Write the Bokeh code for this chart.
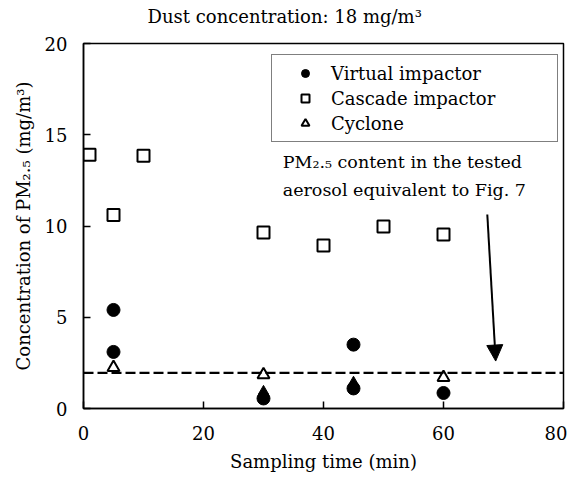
from bokeh.plotting import figure
from bokeh.models import (Range1d, Span, Arrow, NormalHead, Legend, LegendItem,
                          FixedTicker, Label)
from bokeh.core.properties import value
from bokeh.embed import file_html
from bokeh.resources import INLINE

# ---- data ----
virtual_x = [5, 5, 30, 45, 45, 60]
virtual_y = [5.4, 3.1, 0.55, 3.5, 1.1, 0.85]

cascade_x = [1, 5, 10, 30, 40, 50, 60]
cascade_y = [13.9, 10.6, 13.85, 9.64, 8.93, 9.97, 9.53]

cyclone_x = [5, 30, 60]
cyclone_y = [2.25, 1.85, 1.7]
# cyclone points overlapping the virtual-impactor dots (printed dark)
cyclone_dark_x = [30, 45]
cyclone_dark_y = [0.95, 1.45]

pm25_level = 1.95

arrow_x = [67.3, 68.7]
arrow_y = [10.63, 2.6]

note_lines = ["PM\u2082.\u2085 content in the tested", "aerosol equivalent to Fig. 7"]
note_x = [33.2, 33.2]
note_y = [13.5, 12.0]

title_text = "Dust concentration: 18 mg/m\u00b3"

x_ticks = [0, 20, 40, 60, 80]
y_ticks = [0, 5, 10, 15, 20]

FONT = "DejaVu Serif"

p = figure(width=567, height=474, output_backend="svg", toolbar_location=None,
           title=None,
           x_range=Range1d(0, 80), y_range=Range1d(0, 20),
           min_border_left=83, min_border_right=4, min_border_top=43,
           min_border_bottom=63)

p.outline_line_color = "black"
p.outline_line_width = 1.5
p.grid.visible = False
p.background_fill_color = "white"
p.border_fill_color = "white"

for ax in (p.xaxis[0], p.yaxis[0]):
    ax.axis_line_color = "black"
    ax.axis_line_width = 1.5
    ax.major_tick_in = 7
    ax.major_tick_out = 0
    ax.major_tick_line_width = 1.5
    ax.minor_tick_line_color = None
    ax.major_label_text_font = FONT
    ax.major_label_text_font_size = "18px"
    ax.major_label_text_color = "black"
    ax.axis_label_text_font = FONT
    ax.axis_label_text_font_size = "18px"
    ax.axis_label_text_font_style = "normal"
    ax.axis_label_text_color = "black"

p.xaxis.ticker = FixedTicker(ticks=x_ticks)
p.yaxis.ticker = FixedTicker(ticks=y_ticks)
p.xaxis.axis_label = "Sampling time (min)"
p.yaxis.axis_label = "Concentration of PM\u2082.\u2085 (mg/m\u00b3)"
p.xaxis.major_label_standoff = 17
p.yaxis.major_label_standoff = 16
p.xaxis.axis_label_standoff = 8
p.yaxis.axis_label_standoff = 8

# title drawn as a label in the panel above the frame
p.add_layout(Label(x=64, y=27, x_units="screen", y_units="screen",
                   text=title_text, text_font=FONT, text_font_size="18px",
                   text_color="black", text_baseline="middle",
                   text_align="left"), "above")

p.add_layout(Span(location=pm25_level, dimension="width", line_color="black",
                  line_width=2.2, line_dash="10 4"))

r_v = p.scatter(virtual_x, virtual_y, marker="circle", size=13,
                fill_color="black", line_color="black")
r_c = p.scatter(cascade_x, cascade_y, marker="square", size=12,
                fill_color="white", line_color="black", line_width=2)
r_y = p.scatter(cyclone_x, cyclone_y, marker="triangle", size=12,
                fill_color="white", line_color="black", line_width=2)
p.scatter(cyclone_dark_x, cyclone_dark_y, marker="triangle", size=10,
          fill_color="black", line_color="black", line_width=1)

p.add_layout(Arrow(end=NormalHead(size=16, fill_color="black", line_color="black"),
                   x_start=arrow_x[0], y_start=arrow_y[0],
                   x_end=arrow_x[1], y_end=arrow_y[1],
                   line_color="black", line_width=2))

p.text(x=note_x, y=note_y, text=note_lines, text_font=value(FONT),
       text_font_size="17.5px", text_baseline="middle", text_align="left",
       text_color="black")

legend = Legend(items=[LegendItem(label="Virtual impactor", renderers=[r_v]),
                       LegendItem(label="Cascade impactor", renderers=[r_c]),
                       LegendItem(label="Cyclone", renderers=[r_y])],
                location=(188, 266), orientation="vertical",
                label_text_font=FONT, label_text_font_size="18px",
                label_text_color="black",
                border_line_color="black", border_line_width=1.5,
                background_fill_alpha=1.0, padding=7, spacing=3,
                glyph_width=52, glyph_height=20, label_height=22,
                label_standoff=0, label_width=219, margin=0)
p.add_layout(legend, "center")

open("out.html", "w").write(file_html(p, INLINE))
